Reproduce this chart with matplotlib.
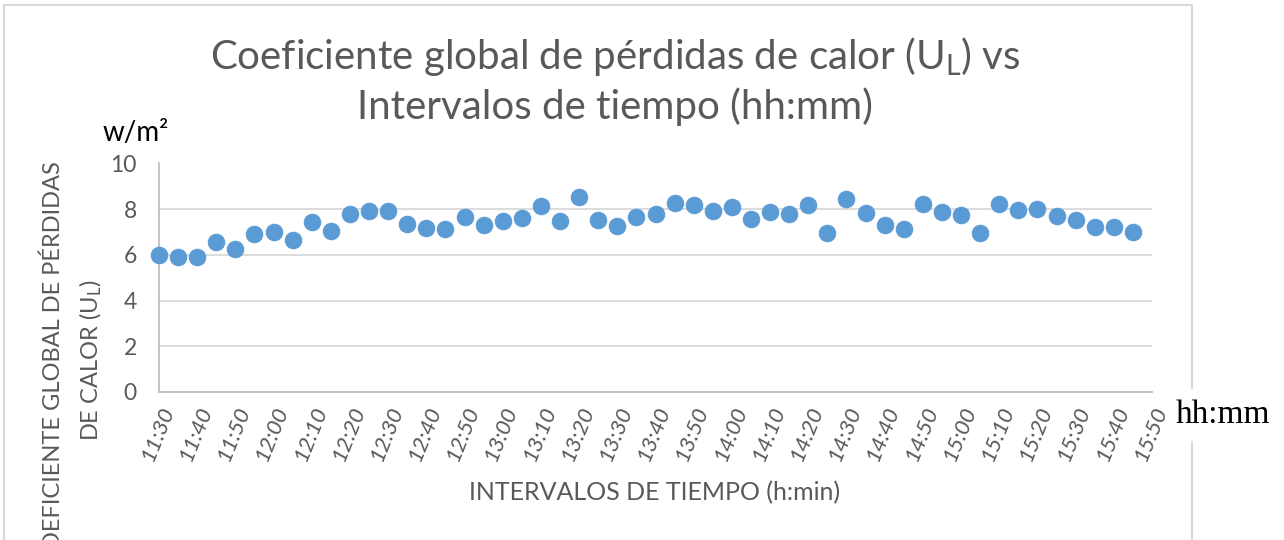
import matplotlib
matplotlib.use("Agg")
import matplotlib.pyplot as plt
from matplotlib.lines import Line2D

# ---- data ----
times = ["11:30", "11:35", "11:40", "11:45", "11:50", "11:55", "12:00", "12:05",
         "12:10", "12:15", "12:20", "12:25", "12:30", "12:35", "12:40", "12:45",
         "12:50", "12:55", "13:00", "13:05", "13:10", "13:15", "13:20", "13:25",
         "13:30", "13:35", "13:40", "13:45", "13:50", "13:55", "14:00", "14:05",
         "14:10", "14:15", "14:20", "14:25", "14:30", "14:35", "14:40", "14:45",
         "14:50", "14:55", "15:00", "15:05", "15:10", "15:15", "15:20", "15:25",
         "15:30", "15:35", "15:40", "15:45"]
ul_values = [6.00, 5.92, 5.92, 6.57, 6.27, 6.90, 7.00, 6.67,
             7.45, 7.05, 7.78, 7.91, 7.93, 7.35, 7.17, 7.15,
             7.66, 7.30, 7.48, 7.62, 8.13, 7.48, 8.53, 7.54,
             7.28, 7.68, 7.78, 8.28, 8.18, 7.94, 8.08, 7.56,
             7.87, 7.80, 8.18, 6.95, 8.46, 7.82, 7.32, 7.14,
             8.21, 7.87, 7.75, 6.96, 8.22, 7.96, 8.02, 7.71,
             7.54, 7.24, 7.20, 7.00]
tick_labels = ["11:30", "11:40", "11:50", "12:00", "12:10", "12:20", "12:30",
               "12:40", "12:50", "13:00", "13:10", "13:20", "13:30", "13:40",
               "13:50", "14:00", "14:10", "14:20", "14:30", "14:40", "14:50",
               "15:00", "15:10", "15:20", "15:30", "15:40", "15:50"]
y_ticks = [0, 2, 4, 6, 8, 10]

def to_min(s):
    h, m = s.split(":")
    return int(h) * 60 + int(m)

t0 = to_min(times[0])
x = [to_min(t) - t0 for t in times]
xt = [to_min(t) - t0 for t in tick_labels]

plt.rcParams['font.family'] = ['Lato', 'DejaVu Sans']
plt.rcParams['mathtext.fontset'] = 'custom'
plt.rcParams['mathtext.rm'] = 'Lato'

GRAY = '#595959'
W, H = 1284, 540
fig = plt.figure(figsize=(W / 100, H / 100), dpi=100)
ax = fig.add_axes([159 / W, 1 - 392 / H, (1152 - 159) / W, (392 - 163.5) / H])

ax.scatter(x, ul_values, s=140, color='#5B9BD5', edgecolors='#5B9BD5',
           linewidths=0.8, zorder=3, clip_on=False)

ax.set_xlim(xt[0], xt[-1])
ax.set_ylim(0, 10)
ax.set_yticks(y_ticks)
ax.set_xticks(xt)
ax.set_xticklabels(tick_labels, rotation=68, ha='right', va='top',
                   rotation_mode='anchor', style='italic', fontsize=16, color=GRAY)
ax.tick_params(axis='x', length=0, pad=8)
ax.tick_params(axis='y', length=0, pad=16, labelsize=16.5, labelcolor=GRAY)
ax.grid(axis='y', color='#d9d9d9', linewidth=1.3, zorder=0)
ax.set_axisbelow(True)
for sp in ['top', 'right']:
    ax.spines[sp].set_visible(False)
for sp in ['left', 'bottom']:
    ax.spines[sp].set_color('#bfbfbf')
    ax.spines[sp].set_linewidth(1.3)

# Title
fig.text(615 / W, 1 - 57 / H, r"Coeficiente global de pérdidas de calor (U$\mathregular{_L}$) vs",
         ha='center', va='center', fontsize=29, color=GRAY)
fig.text(615 / W, 1 - 107 / H, "Intervalos de tiempo (hh:mm)",
         ha='center', va='center', fontsize=29, color=GRAY)

# unit label
fig.text(136 / W, 1 - 133 / H, "w/m²", ha='center', va='center', fontsize=20, color='black')

# y-axis label (first line is cut by the bottom edge, as in the original)
fig.text(53 / W, 1 - 364 / H, "COEFICIENTE GLOBAL DE PÉRDIDAS",
         rotation=90, ha='center', va='center', fontsize=17, color=GRAY)
fig.text(91 / W, 1 - 360 / H, r"DE CALOR (U$\mathregular{_L}$)",
         rotation=90, ha='center', va='center', fontsize=17, color=GRAY)

# x-axis label
fig.text(655 / W, 1 - 493 / H, "INTERVALOS DE TIEMPO (h:min)",
         ha='center', va='center', fontsize=18, color=GRAY)

# chart border
bc = '#d9d9d9'
fig.add_artist(Line2D([4 / W, 4 / W], [0, 1 - 5 / H], color=bc, lw=1.5, transform=fig.transFigure))
fig.add_artist(Line2D([4 / W, 1192 / W], [1 - 5 / H, 1 - 5 / H], color=bc, lw=1.5, transform=fig.transFigure))
fig.add_artist(Line2D([1192 / W, 1192 / W], [0, 1 - 5 / H], color=bc, lw=1.5, transform=fig.transFigure))

# hh:mm
fig.text(1223 / W, 1 - 415 / H, "hh:mm", ha='center', va='center', fontsize=24,
         family='Liberation Serif', color='black',
         bbox=dict(facecolor='white', edgecolor='none', pad=8), zorder=5)

fig.savefig("out.png", dpi=100)
